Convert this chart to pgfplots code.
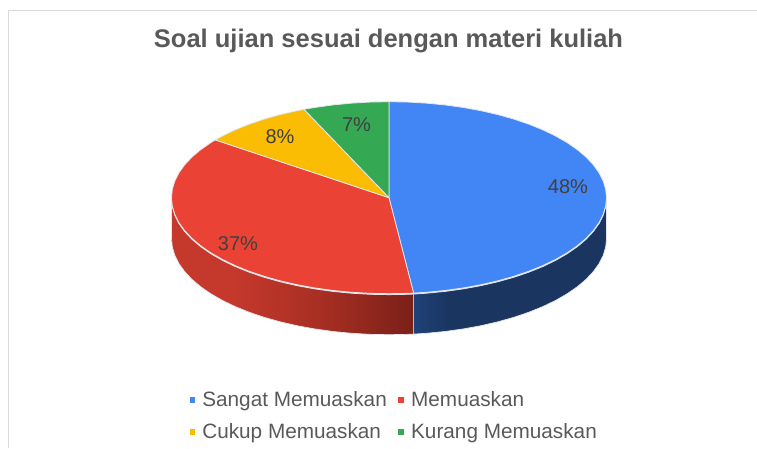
\documentclass[border=0pt]{standalone}
\usepackage{fontspec}
\setmainfont{Liberation Sans}
\usepackage{pgfplots}
\pgfplotsset{compat=1.18}
\definecolor{cblue}{HTML}{4285F4}
\definecolor{cred}{HTML}{EA4335}
\definecolor{cyellow}{HTML}{FBBC04}
\definecolor{cgreen}{HTML}{34A853}
\definecolor{edgec}{HTML}{E4E8EE}
\definecolor{framec}{HTML}{D9D9D9}
\definecolor{titlec}{HTML}{595959}
\definecolor{labelc}{HTML}{404040}
\definecolor{rw1}{HTML}{C5392C}
\definecolor{rw2}{HTML}{A92F23}
\definecolor{rw3}{HTML}{7A2018}
\definecolor{bw1}{HTML}{204279}
\definecolor{bw2}{HTML}{1A3560}
\pgfdeclarehorizontalshading{redwall}{100bp}{color(0bp)=(rw1);color(25bp)=(rw1);color(37bp)=(rw1);color(55bp)=(rw2);color(75bp)=(rw3);color(100bp)=(rw3)}
\pgfdeclarehorizontalshading{bluewall}{100bp}{color(0bp)=(bw1);color(25bp)=(bw1);color(34bp)=(bw2);color(75bp)=(bw2);color(100bp)=(bw2)}
\begin{document}
\begin{tikzpicture}
\begin{axis}[
  scale only axis, width=757pt, height=448pt,
  xmin=-389, xmax=368, ymin=-250.3, ymax=197.7,
  hide axis, no markers,
  legend columns=2,
  legend cell align=left,
  legend style={at={(axis cs:-199.5,-194)},anchor=north west,draw=none,fill=none,inner sep=0pt,outer sep=0pt,
    font=\fontsize{20.75}{20.75}\selectfont,text=titlec,row sep=15.7pt,
    nodes={inner sep=0pt,outer sep=0pt},
    /tikz/every even column/.append style={column sep=11.5pt},
    /tikz/every odd column/.append style={column sep=7pt}},
  legend image code/.code={\path[#1,draw=none] (0pt,-2.9pt) rectangle (5.8pt,2.9pt);},
]
\path (axis cs:-389,-250.3) rectangle (axis cs:368,197.7);
% frame
\addplot[draw=framec,line width=1pt,forget plot] coordinates {(-380.5,-250.3)(-380.5,186.7)(368,186.7)};
% side walls
\addplot[draw=edgec,line width=0.7pt,shade,shading=bluewall,forget plot,yshift=-1pt] coordinates {
(217.5,0)(216.67,-8.37)(214.2,-16.67)(210.09,-24.85)(204.38,-32.83)(197.12,-40.57)(188.36,-48)(178.16,-55.06)(166.61,-61.71)(153.8,-67.88)(139.81,-73.54)(124.75,-78.64)(108.75,-83.14)(91.92,-87.01)(74.39,-90.21)(56.29,-92.73)(37.77,-94.54)(24.6,-95.4)
(24.6,-135.4)(37.77,-134.54)(56.29,-132.73)(74.39,-130.21)(91.92,-127.01)(108.75,-123.14)(124.75,-118.64)(139.81,-113.54)(153.8,-107.88)(166.61,-101.71)(178.16,-95.06)(188.36,-88)(197.12,-80.57)(204.38,-72.83)(210.09,-64.85)(214.2,-56.67)(216.67,-48.37)(217.5,-40)(217.5,0)};
\addplot[draw=edgec,line width=0.7pt,shade,shading=redwall,forget plot,yshift=-1pt] coordinates {
(24.6,-95.4)(18.96,-95.63)(0,-96)(-18.96,-95.63)(-37.77,-94.54)(-56.29,-92.73)(-74.39,-90.21)(-91.92,-87.01)(-108.75,-83.14)(-124.75,-78.64)(-139.81,-73.54)(-153.8,-67.88)(-166.61,-61.71)(-178.16,-55.06)(-188.36,-48)(-197.12,-40.57)(-204.38,-32.83)(-210.09,-24.85)(-214.2,-16.67)(-216.67,-8.37)(-217.5,0)
(-217.5,-40)(-216.67,-48.37)(-214.2,-56.67)(-210.09,-64.85)(-204.38,-72.83)(-197.12,-80.57)(-188.36,-88)(-178.16,-95.06)(-166.61,-101.71)(-153.8,-107.88)(-139.81,-113.54)(-124.75,-118.64)(-108.75,-123.14)(-91.92,-127.01)(-74.39,-130.21)(-56.29,-132.73)(-37.77,-134.54)(-18.96,-135.63)(0,-136)(18.96,-135.63)(24.6,-135.4)(24.6,-95.4)};
% top slices
\addplot[draw=edgec,line width=0.8pt,fill=cblue] coordinates {
(0,0)(0,96)(18.96,95.63)(37.77,94.54)(56.29,92.73)(74.39,90.21)(91.92,87.01)(108.75,83.14)(124.75,78.64)(139.81,73.54)(153.8,67.88)(166.61,61.71)(178.16,55.06)(188.36,48)(197.12,40.57)(204.38,32.83)(210.09,24.85)(214.2,16.67)(216.67,8.37)(217.5,0)
(216.67,-8.37)(214.2,-16.67)(210.09,-24.85)(204.38,-32.83)(197.12,-40.57)(188.36,-48)(178.16,-55.06)(166.61,-61.71)(153.8,-67.88)(139.81,-73.54)(124.75,-78.64)(108.75,-83.14)(91.92,-87.01)(74.39,-90.21)(56.29,-92.73)(37.77,-94.54)(24.6,-95.4)(0,0)};
\addlegendentry{Sangat Memuaskan}
\addplot[draw=edgec,line width=0.8pt,fill=cred] coordinates {
(0,0)(24.6,-95.4)(18.96,-95.63)(0,-96)(-18.96,-95.63)(-37.77,-94.54)(-56.29,-92.73)(-74.39,-90.21)(-91.92,-87.01)(-108.75,-83.14)(-124.75,-78.64)(-139.81,-73.54)(-153.8,-67.88)(-166.61,-61.71)(-178.16,-55.06)(-188.36,-48)(-197.12,-40.57)(-204.38,-32.83)(-210.09,-24.85)(-214.2,-16.67)(-216.67,-8.37)(-217.5,0)
(-216.67,8.37)(-214.2,16.67)(-210.09,24.85)(-204.38,32.83)(-197.12,40.57)(-188.36,48)(-178.16,55.06)(-173.7,57.8)(0,0)};
\addlegendentry{Memuaskan}
\addplot[draw=edgec,line width=0.8pt,fill=cyellow] coordinates {
(0,0)(-173.7,57.8)(-166.61,61.71)(-153.8,67.88)(-139.81,73.54)(-124.75,78.64)(-108.75,83.14)(-91.92,87.01)(-85,88.4)(0,0)};
\addlegendentry{Cukup Memuaskan}
\addplot[draw=edgec,line width=0.8pt,fill=cgreen] coordinates {
(0,0)(-85,88.4)(-74.39,90.21)(-56.29,92.73)(-37.77,94.54)(-18.96,95.63)(0,96)(0,0)};
\addlegendentry{Kurang Memuaskan}
% texts
\node[font=\bfseries\fontsize{25.5}{25.5}\selectfont,text=titlec] at (axis cs:-0.5,157) {Soal ujian sesuai dengan materi kuliah};
\node[font=\fontsize{20}{20}\selectfont,text=labelc] at (axis cs:179,11) {48\%};
\node[font=\fontsize{20}{20}\selectfont,text=labelc] at (axis cs:-151,-46.3) {37\%};
\node[font=\fontsize{20}{20}\selectfont,text=labelc] at (axis cs:-109,61) {8\%};
\node[font=\fontsize{20}{20}\selectfont,text=labelc] at (axis cs:-32.5,72.7) {7\%};
\end{axis}
\end{tikzpicture}
\end{document}
